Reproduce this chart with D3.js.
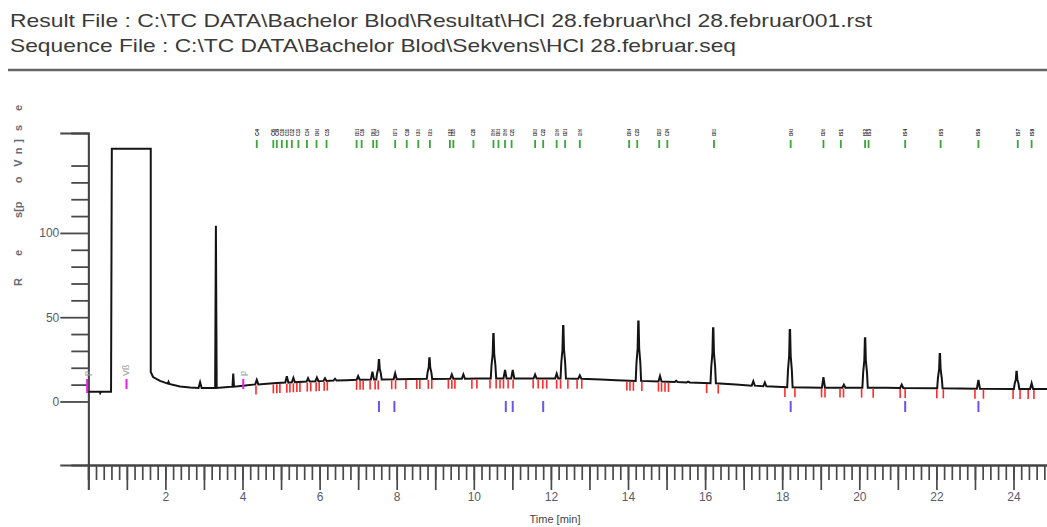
<!DOCTYPE html>
<html>
<head>
<meta charset="utf-8">
<script src="https://cdn.jsdelivr.net/npm/d3@7"></script>
<style>
  body { margin: 0; background: #fff; }
  svg { display: block; font-family: "Liberation Sans", Arial, sans-serif; }
</style>
</head>
<body>
<div id="chart"></div>
<script>
// header texts
const headerLines = [
  'Result File : C:\\TC DATA\\Bachelor Blod\\Resultat\\HCl 28.februar\\hcl 28.februar001.rst',
  'Sequence File : C:\\TC DATA\\Bachelor Blod\\Sekvens\\HCl 28.februar.seq'
];
const xTitle = 'Time [min]';
const yTitleChars = ['R', 'e', 's', '[', 'p', 'o', 'V', 'n', ']', 's', 'e'];

// axis ticks
const xLabelTicks = [2, 4, 6, 8, 10, 12, 14, 16, 18, 20, 22, 24];
const yLabelTicks = [0, 50, 100];
const yMinorTicks = [10, 20, 30, 40, 60, 70, 80, 90, 110, 120, 130, 140];

// chromatogram trace [time min, response mV]
const trace = [
  [0.00, 5.8], [0.30, 5.8], [0.31, 5.0], [0.33, 5.8], [0.59, 5.8], [0.61, 150], [1.62, 150],
  [1.62, 17.5], [1.68, 14.5], [1.86, 12.2], [2.06, 10.6], [2.08, 11.6], [2.10, 10.4],
  [2.38, 8.9], [2.64, 8.3], [2.86, 8.0], [2.90, 11.5], [2.94, 8.0],
  [3.29, 8.0], [3.31, 104.2], [3.33, 8.0],
  [3.55, 8.5], [3.74, 8.8], [3.76, 16.5], [3.78, 8.8],
  [4.01, 9.3],
  [4.33, 10.1], [4.37, 12.8], [4.41, 10.1],
  [4.80, 10.8],
  [5.11, 11.2], [5.15, 15.0], [5.19, 11.2],
  [5.28, 11.4], [5.32, 14.0], [5.36, 11.4],
  [5.66, 11.8], [5.70, 13.8], [5.74, 11.8],
  [5.89, 12.0], [5.93, 14.2], [5.97, 12.0],
  [6.10, 12.2], [6.14, 13.8], [6.18, 12.2],
  [6.36, 12.4], [6.40, 13.5], [6.44, 12.4],
  [6.70, 12.6],
  [6.96, 12.9], [7.00, 15.1], [7.04, 12.9],
  [7.33, 13.0], [7.37, 17.7], [7.41, 13.0],
  [7.47, 13.0], [7.49, 16.5], [7.52, 19.4], [7.535, 24.6], [7.545, 24.6], [7.56, 19.4], [7.59, 16.5], [7.61, 13.0],
  [7.92, 13.2], [7.96, 16.7], [8.00, 13.2],
  [8.40, 13.3],
  [8.78, 13.4], [8.80, 17.1], [8.83, 20.1], [8.845, 25.6], [8.855, 25.6], [8.87, 20.1], [8.90, 17.1], [8.92, 13.4],
  [9.39, 13.5], [9.43, 16.0], [9.47, 13.5],
  [9.69, 13.5], [9.73, 16.0], [9.77, 13.5],
  [10.10, 13.6],
  [10.44, 13.6], [10.46, 21.5], [10.49, 28.1], [10.505, 40.0], [10.515, 40.0], [10.53, 28.1], [10.56, 21.5], [10.58, 13.6],
  [10.77, 13.6], [10.81, 18.7], [10.85, 13.6],
  [10.97, 13.6], [11.01, 18.7], [11.05, 13.6],
  [11.30, 13.6],
  [11.55, 13.6], [11.59, 16.0], [11.63, 13.6],
  [12.11, 13.6], [12.15, 16.5], [12.19, 13.6],
  [12.25, 13.6], [12.27, 23.0], [12.30, 30.8], [12.315, 44.8], [12.325, 44.8], [12.34, 30.8], [12.37, 23.0], [12.39, 13.6],
  [12.71, 13.5], [12.75, 15.5], [12.79, 13.5],
  [13.30, 13.0], [13.70, 12.6],
  [14.20, 12.2], [14.22, 22.8], [14.25, 31.6], [14.265, 47.4], [14.275, 47.4], [14.29, 31.6], [14.32, 22.8], [14.34, 12.2],
  [14.79, 11.8], [14.83, 15.1], [14.87, 11.8],
  [15.21, 11.5], [15.25, 12.3], [15.29, 11.5],
  [15.52, 11.3], [15.56, 11.8], [15.60, 11.3],
  [16.14, 10.8], [16.16, 20.6], [16.19, 28.7], [16.205, 43.4], [16.215, 43.4], [16.23, 28.7], [16.26, 20.6], [16.28, 10.8],
  [16.80, 10.0],
  [17.21, 9.4], [17.25, 12.0], [17.29, 9.4],
  [17.51, 9.0], [17.55, 11.3], [17.59, 9.0],
  [18.13, 8.4], [18.15, 18.6], [18.18, 27.1], [18.195, 42.4], [18.205, 42.4], [18.22, 27.1], [18.25, 18.6], [18.27, 8.4],
  [19.03, 8.2], [19.07, 14.4], [19.11, 8.2],
  [19.56, 8.2], [19.60, 10.0], [19.64, 8.2],
  [20.08, 8.2], [20.10, 17.0], [20.13, 24.3], [20.145, 37.5], [20.155, 37.5], [20.17, 24.3], [20.20, 17.0], [20.22, 8.2],
  [20.70, 8.1],
  [21.06, 8.0], [21.10, 10.0], [21.14, 8.0],
  [22.02, 7.8], [22.04, 13.9], [22.07, 19.0], [22.085, 28.2], [22.095, 28.2], [22.11, 19.0], [22.14, 13.9], [22.16, 7.8],
  [23.05, 7.6], [23.09, 12.8], [23.13, 7.6],
  [24.01, 7.4], [24.03, 10.5], [24.06, 13.1], [24.075, 17.7], [24.085, 17.7], [24.10, 13.1], [24.13, 10.5], [24.15, 7.4],
  [24.43, 7.35], [24.47, 10.8], [24.51, 7.35],
  [25.50, 7.3]
];

// baseline under the peaks, used to hang the integration marks
const baseline = [
  [4.0, 9.3], [4.45, 10.3], [5.49, 11.6], [6.53, 12.7], [8.09, 13.3], [9.38, 13.5],
  [10.68, 13.6], [12.8, 13.5], [13.7, 12.6], [14.5, 12.0], [15.2, 11.5], [16.2, 10.8],
  [17.2, 9.4], [18.2, 8.4], [20.15, 8.2], [22.1, 7.8], [24.0, 7.4], [25.5, 7.3]
];

// identified components (green) with their names
const componentTimes = [
  4.37, 4.80, 4.89, 5.02, 5.15, 5.28, 5.45, 5.67, 5.92, 6.18,
  6.96, 7.09, 7.39, 7.48, 7.96, 8.26, 8.56, 8.86, 9.38, 9.47,
  9.99, 10.51, 10.64, 10.81, 10.98, 11.59, 11.80, 12.15, 12.37, 12.75,
  14.03, 14.24, 14.81, 15.02, 16.23, 18.22, 19.07, 19.52, 20.15, 20.24,
  21.19, 22.11, 23.09, 24.11, 24.47
];
const componentNames = [
  'C4', 'C6', 'C8', 'C10', 'C11', 'C12', 'C13', 'C14', 'C14:1', 'C15',
  'C15:1', 'C16', 'C16:1', 'C17', 'C17:1', 'C18', 'C18:1t', 'C18:1c', 'C18:2t', 'C18:2c',
  'C20', 'C18:3n6', 'C20:1', 'C18:3n3', 'C21', 'C20:2', 'C22', 'C20:3n6', 'C22:1', 'C20:3n3',
  'C20:4', 'C23', 'C22:2', 'C24', 'C20:5', 'C24:1', 'C22:6', 'IS1', 'IS2', 'IS3',
  'IS4', 'IS5', 'IS6', 'IS7', 'IS8'
];

// peak start / end marks (red)
const peakMarks = [
  4.35, 4.80, 4.89, 4.97, 5.15, 5.23, 5.32, 5.41, 5.49, 5.68, 5.77, 5.91, 5.99, 6.12, 6.20,
  6.96, 7.05, 7.13, 7.31, 7.44, 7.52, 7.87, 7.97, 8.24, 8.52, 8.60, 8.82, 8.91,
  9.34, 9.43, 9.51, 9.95, 10.08, 10.42, 10.58, 10.68, 10.77, 10.89, 11.02,
  11.54, 11.67, 11.79, 11.89, 12.15, 12.25, 12.44, 12.68, 12.80,
  13.97, 14.05, 14.14, 14.36, 14.79, 14.87, 14.96, 15.05, 16.04, 16.34,
  18.07, 18.33, 19.02, 19.11, 19.50, 19.59, 20.06, 20.36, 21.06, 21.19,
  22.01, 22.18, 23.00, 23.22, 23.99, 24.17, 24.38, 24.53
];

// reference peaks (blue) and events (magenta)
const referenceTimes = [7.54, 7.94, 10.83, 11.01, 11.80, 18.22, 21.19, 23.09];
const eventTimes = [-0.03, 0.99, 4.02];
const eventLabels = ['p', 'V\u00df', 'p'];

const width = 1047;
const height = 527;
const colors = {
  text: '#3a3a3a',
  axis: '#444',
  trace: '#141414',
  component: '#3aa63a',
  mark: '#ff2a2a',
  reference: '#6a55f0',
  event: '#e81ee8'
};

const svg = d3.select('#chart')
  .append('svg')
  .attr('width', width)
  .attr('height', height);

// header (the print is stretched sideways, so fit each line to its width)
const headerWidths = [862, 726];
svg.selectAll('text.header')
  .data(headerLines)
  .enter()
  .append('text')
  .attr('class', 'header')
  .attr('x', 10)
  .attr('y', (d, i) => 27 + i * 25)
  .attr('font-size', 19)
  .attr('fill', colors.text)
  .attr('textLength', (d, i) => headerWidths[i])
  .attr('lengthAdjust', 'spacingAndGlyphs')
  .text(d => d);

svg.append('line')
  .attr('x1', 8).attr('x2', width)
  .attr('y1', 70).attr('y2', 70)
  .attr('stroke', '#666')
  .attr('stroke-width', 2.5);

// scales
const x = d3.scaleLinear().domain([0, 25.5]).range([88.3, 88.3 + 25.5 * 38.55]);
const y = d3.scaleLinear().domain([-37.7, 159.3]).range([465, 133]);
const base = d3.scaleLinear()
  .domain(baseline.map(d => d[0]))
  .range(baseline.map(d => d[1]));

// x axis: minor, then major ticks
const xMinor = svg.append('g')
  .attr('transform', `translate(0, ${y(-37.7)})`)
  .call(d3.axisBottom(x)
    .tickValues(d3.range(0, 126).map(i => i / 5))
    .tickSize(15)
    .tickFormat(''));
const xMajor = svg.append('g')
  .attr('transform', `translate(0, ${y(-37.7)})`)
  .call(d3.axisBottom(x)
    .tickValues(d3.range(0, 26))
    .tickSize(25)
    .tickPadding(2)
    .tickFormat(d => xLabelTicks.includes(d) ? d : ''));
[xMinor, xMajor].forEach(g => {
  g.select('.domain').attr('stroke', colors.axis).attr('stroke-width', 2);
  g.selectAll('.tick line').attr('stroke', '#4a4a4a').attr('stroke-width', 1.7);
  g.selectAll('.tick text')
    .attr('font-size', 12)
    .attr('fill', '#5a5a6a')
    .attr('font-family', '"Liberation Sans", Arial, sans-serif');
});

svg.append('text')
  .attr('x', 555)
  .attr('y', 523)
  .attr('text-anchor', 'middle')
  .attr('font-size', 11)
  .attr('fill', '#444')
  .text(xTitle);

// y axis
const yMinor = svg.append('g')
  .attr('transform', `translate(${x(0)}, 0)`)
  .call(d3.axisLeft(y).tickValues(yMinorTicks).tickSize(17).tickFormat(''));
const yMajor = svg.append('g')
  .attr('transform', `translate(${x(0)}, 0)`)
  .call(d3.axisLeft(y).tickValues(yLabelTicks).tickSize(28).tickPadding(1));
[yMinor, yMajor].forEach(g => {
  g.select('.domain').attr('stroke', colors.axis).attr('stroke-width', 1.8);
  g.selectAll('.tick line').attr('stroke', '#4a4a4a').attr('stroke-width', 1.8);
  g.selectAll('.tick text')
    .attr('font-size', 12)
    .attr('fill', '#5a5a6a')
    .attr('font-family', '"Liberation Sans", Arial, sans-serif');
});

// rotated y title, one glyph at a time like the original print
const yTitleAt = [282, 253, 215, 210, 205, 180, 163, 151, 141, 128, 108];
svg.selectAll('text.ytitle')
  .data(yTitleChars)
  .enter()
  .append('text')
  .attr('class', 'ytitle')
  .attr('transform', (d, i) => `translate(22, ${yTitleAt[i]}) rotate(-90)`)
  .attr('text-anchor', 'middle')
  .attr('font-size', 11)
  .attr('font-weight', 'bold')
  .attr('fill', '#6a6a72')
  .text(d => d);

// component labels (printed vertically, squeezed) and ticks (top)
svg.selectAll('line.component')
  .data(componentTimes)
  .enter()
  .append('line')
  .attr('x1', d => x(d)).attr('x2', d => x(d))
  .attr('y1', 140).attr('y2', 148)
  .attr('stroke', colors.component)
  .attr('stroke-width', 1.8);

svg.selectAll('text.component')
  .data(componentTimes)
  .enter()
  .append('text')
  .attr('transform', d => `translate(${x(d) + 2}, 136) rotate(-90)`)
  .attr('font-size', 6)
  .attr('font-weight', 'bold')
  .attr('fill', '#1a1a1a')
  .attr('textLength', 7)
  .attr('lengthAdjust', 'spacingAndGlyphs')
  .text((d, i) => componentNames[i]);

// chromatogram
const line = d3.line()
  .x(d => x(d[0]))
  .y(d => y(d[1]));

svg.append('path')
  .datum(trace)
  .attr('fill', 'none')
  .attr('stroke', colors.trace)
  .attr('stroke-width', 2)
  .attr('d', line);

// peak start / end marks
svg.selectAll('line.mark')
  .data(peakMarks)
  .enter()
  .append('line')
  .attr('x1', d => x(d)).attr('x2', d => x(d))
  .attr('y1', d => y(base(d)) + 1)
  .attr('y2', d => y(base(d)) + 10)
  .attr('stroke', colors.mark)
  .attr('stroke-width', 1.6);

// reference peaks
svg.selectAll('line.reference')
  .data(referenceTimes)
  .enter()
  .append('line')
  .attr('x1', d => x(d)).attr('x2', d => x(d))
  .attr('y1', 401).attr('y2', 412)
  .attr('stroke', colors.reference)
  .attr('stroke-width', 2);

// events with their small labels
svg.selectAll('line.event')
  .data(eventTimes)
  .enter()
  .append('line')
  .attr('x1', d => x(d)).attr('x2', d => x(d))
  .attr('y1', 379).attr('y2', (d, i) => i === 0 ? 393 : 389)
  .attr('stroke', colors.event)
  .attr('stroke-width', 2);

svg.selectAll('text.event')
  .data(eventLabels)
  .enter()
  .append('text')
  .attr('transform', (d, i) => `translate(${x(eventTimes[i]) + 3}, 376) rotate(-90)`)
  .attr('font-size', 9)
  .attr('fill', '#999')
  .text(d => d);
</script>
</body>
</html>
